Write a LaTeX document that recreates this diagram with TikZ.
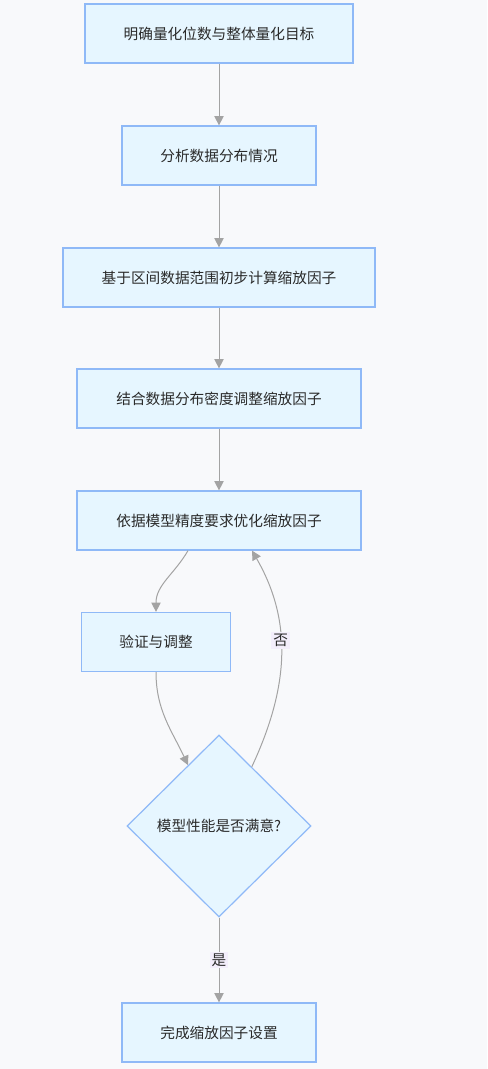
\documentclass[tikz,border=0pt]{standalone}
\usepackage{fontspec}
\newfontfamily\cjk{Noto Sans CJK SC}
\usetikzlibrary{shapes.geometric,arrows.meta}
\definecolor{bg}{HTML}{F8F9FB}
\definecolor{boxfill}{HTML}{E6F6FF}
\definecolor{boxline}{HTML}{8FB9F7}
\definecolor{edgegray}{HTML}{A3A3A3}
\definecolor{lblfill}{HTML}{F3EEFB}
\definecolor{txt}{HTML}{2A2A2A}
\tikzset{
  box/.style={rectangle,draw=boxline,fill=boxfill,line width=0.9pt,minimum height=44.25pt,text=txt,font=\cjk\fontsize{11pt}{13pt}\selectfont},
  decide/.style={diamond,aspect=1,inner sep=0pt,draw=boxline,fill=boxfill,line width=0.9pt,minimum width=138pt,minimum height=136.5pt,text=txt,font=\cjk\fontsize{11pt}{13pt}\selectfont},
  lbl/.style={fill=lblfill,inner sep=1.5pt,text=txt,font=\cjk\fontsize{11pt}{13pt}\selectfont}
}

\begin{document}
\begin{tikzpicture}[->,>={Triangle[width=7pt,length=7pt]},node distance=91.5pt,every edge/.style={draw=edgegray,line width=0.75pt}]

\fill[bg](0,0)rectangle(365.25pt,-801.75pt);
\useasboundingbox(0,0)rectangle(365.25pt,-801.75pt);

\node[box,minimum width=201pt](s1)at(164.25pt,-25.125pt){明确量化位数与整体量化目标};
\node[box,minimum width=145.5pt](s2)[below of=s1]{分析数据分布情况};
\node[box,minimum width=234pt](s3)[below of=s2]{基于区间数据范围初步计算缩放因子};
\node[box,minimum width=213pt](s4)[below of=s3,node distance=90.75pt]{结合数据分布密度调整缩放因子};
\node[box,minimum width=213pt](s5)[below of=s4]{依据模型精度要求优化缩放因子};
\node[box,minimum width=111.75pt](s6)[below of=s5,node distance=91.125pt,xshift=-47.25pt]{验证与调整};
\node[decide](chk)[below of=s5,node distance=229.125pt]{模型性能是否满意?};
\node[box,minimum width=145.5pt](done)[below of=chk,node distance=154.875pt]{完成缩放因子设置};

\path(s1)edge(s2)
	(s2)edge(s3)
	(s3)edge(s4)
	(s4)edge(s5)
	([xshift=-23.25pt]s5.south)edge[out=-120,in=90](s6.north)
	(s6.south)edge[out=-90,in=115](chk.117)
	(chk.61)edge[out=65,in=-60] node[lbl,pos=0.58]{否}([xshift=24.75pt]s5.south)
	(chk)edge node[lbl]{是}(done);

\end{tikzpicture}
\end{document}
